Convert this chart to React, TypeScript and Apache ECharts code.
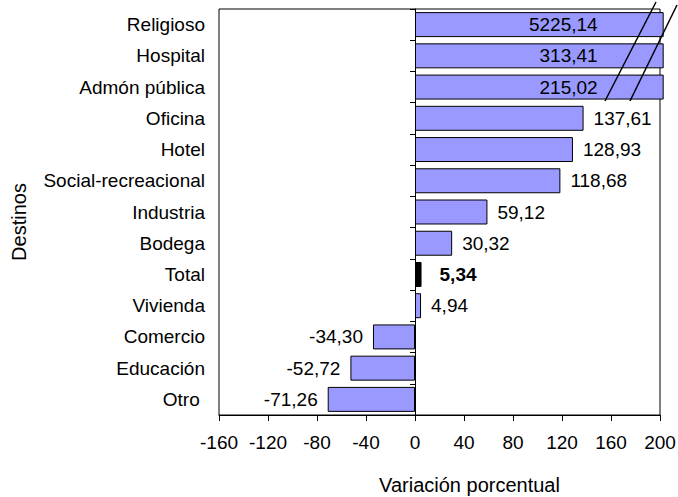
import React, { useEffect, useRef } from "react";
import * as echarts from "echarts";

const categories = [
  "Religioso",
  "Hospital",
  "Admón pública",
  "Oficina",
  "Hotel",
  "Social-recreacional",
  "Industria",
  "Bodega",
  "Total",
  "Vivienda",
  "Comercio",
  "Educación",
  "Otro ",
];
const values = [5225.14, 313.41, 215.02, 137.61, 128.93, 118.68, 59.12, 30.32, 5.34, 4.94, -34.3, -52.72, -71.26];
const X_MIN = -160;
const X_MAX = 200;
const X_INTERVAL = 40;
const TOTAL_NAME = "Total";

const FONT = "'Liberation Sans', Arial, sans-serif";
const fmt = (v: number) => v.toFixed(2).replace(".", ",");

export default function App() {
  const ref = useRef<HTMLDivElement>(null);
  useEffect(() => {
    if (!ref.current) return;
    const chart = echarts.init(ref.current, undefined, { renderer: "svg" });

    const data = values.map((v, i) => {
      const isTotal = categories[i] === TOTAL_NAME;
      const clipped = v > X_MAX;
      const label: any = {
        show: true,
        formatter: () => fmt(v),
        color: "#000",
        fontFamily: FONT,
        fontSize: 19,
      };
      if (clipped) {
        label.position = "insideRight";
        label.distance = 66;
      } else if (v < 0) {
        label.position = "left";
        label.distance = 10;
      } else {
        label.position = "right";
        label.distance = isTotal ? 18 : 10;
      }
      if (isTotal) label.fontWeight = "bold";
      return {
        value: clipped ? X_MAX * 1.015 : v,
        itemStyle: isTotal ? { color: "#000", borderColor: "#000" } : undefined,
        label,
      };
    });

    chart.setOption({
      animation: false,
      grid: {
        left: 219,
        right: 18,
        top: 9,
        bottom: 82,
        show: true,
        borderColor: "#000",
        borderWidth: 1,
        backgroundColor: "transparent",
        outerBoundsMode: "none",
      },
      xAxis: {
        type: "value",
        min: X_MIN,
        max: X_MAX,
        interval: X_INTERVAL,
        axisLine: { show: true, onZero: false, lineStyle: { color: "#000", width: 1 } },
        axisTick: { show: true, length: 6, lineStyle: { color: "#000" } },
        splitLine: { show: false },
        axisLabel: { color: "#000", fontFamily: FONT, fontSize: 19, margin: 18 },
        name: "Variación porcentual",
        nameLocation: "middle",
        nameGap: 60,
        nameTextStyle: { color: "#000", fontFamily: FONT, fontSize: 20, padding: [0, 0, 0, 60] },
      },
      yAxis: [
        {
          type: "category",
          data: categories,
          inverse: true,
          position: "left",
          axisLine: { show: false, onZero: false },
          axisTick: { show: false },
          axisLabel: { color: "#000", fontFamily: FONT, fontSize: 19, margin: 14 },
          name: "Destinos",
          nameLocation: "middle",
          nameGap: 190,
          nameTextStyle: { color: "#000", fontFamily: FONT, fontSize: 20, padding: [0, 20, 0, 0] },
          nameRotate: 90,
        },
        {
          type: "category",
          data: categories,
          inverse: true,
          position: "left",
          axisLine: { show: true, onZero: true, lineStyle: { color: "#000", width: 1 } },
          axisTick: { show: true, length: 5, lineStyle: { color: "#000" } },
          axisLabel: { show: false },
        },
      ],
      series: [
        {
          type: "bar",
          yAxisIndex: 0,
          data,
          clip: false,
          barCategoryGap: "20%",
          itemStyle: { color: "#9999FF", borderColor: "#000", borderWidth: 1 },
          z: 3,
        },
      ],
      graphic: [
        {
          type: "line",
          z: 100,
          shape: { x1: 605, y1: 101, x2: 656, y2: 2 },
          style: { stroke: "#000", lineWidth: 1.5 },
        },
        {
          type: "line",
          z: 100,
          shape: { x1: 630, y1: 101, x2: 677, y2: 5 },
          style: { stroke: "#000", lineWidth: 1.5 },
        },
      ],
    });
    return () => chart.dispose();
  }, []);
  return (
    <div
      ref={ref}
      style={{ position: "fixed", left: 0, top: 0, width: 678, height: 497, background: "#fff" }}
    />
  );
}
